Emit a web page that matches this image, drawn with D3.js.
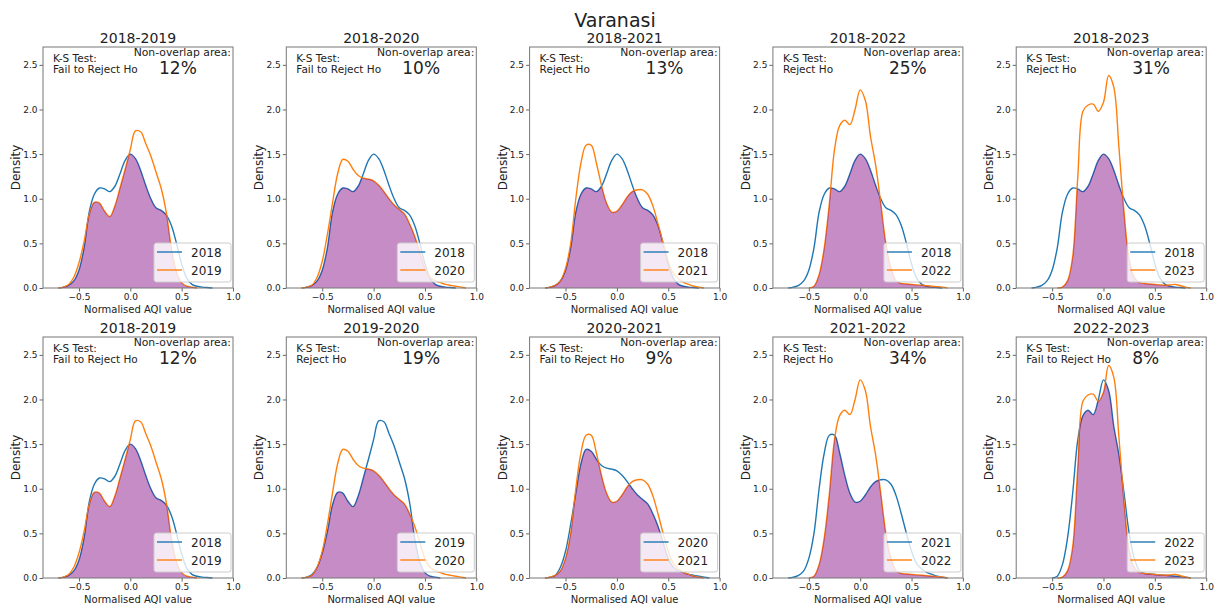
<!DOCTYPE html>
<html>
<head>
<meta charset="utf-8">
<script src="https://cdn.jsdelivr.net/npm/d3@7"></script>
<style>
  body { margin: 0; background: #fff; }
  text { font-family: "DejaVu Sans", sans-serif; fill: #222; }
</style>
</head>
<body>
<script>
const width = 1220, height = 608;

const xGrid = [-0.75,-0.70,-0.65,-0.60,-0.55,-0.50,-0.45,-0.40,-0.35,-0.30,-0.25,-0.20,-0.15,-0.10,-0.05,
  0.00,0.05,0.10,0.15,0.20,0.25,0.30,0.35,0.40,0.45,0.50,0.55,0.60,0.65,0.70,0.75,0.80,0.85,0.90,0.95];

// KDE of normalised AQI per year (null = outside the curve)
const d2018 = [null,0.00,0.01,0.03,0.08,0.20,0.45,0.85,1.05,1.12,1.11,1.08,1.14,1.28,1.43,
  1.50,1.45,1.32,1.15,1.00,0.90,0.87,0.82,0.70,0.50,0.27,0.11,0.04,0.02,0.01,0.005,0.00,null,null,null];
const d2019 = [null,0.00,0.01,0.04,0.12,0.28,0.52,0.82,0.96,0.95,0.86,0.80,0.92,1.12,1.33,
  1.55,1.76,1.75,1.62,1.48,1.30,1.12,0.85,0.45,0.18,0.06,0.02,0.01,0.00,null,null,null,null,null,null];
const d2020 = [null,0.00,0.01,0.03,0.12,0.30,0.60,0.95,1.28,1.44,1.42,1.33,1.26,1.23,1.22,
  1.20,1.15,1.08,1.00,0.93,0.88,0.83,0.72,0.58,0.40,0.22,0.12,0.08,0.06,0.04,0.03,0.02,0.01,0.00,null];
const d2021 = [null,0.00,0.01,0.03,0.08,0.22,0.50,1.00,1.40,1.60,1.60,1.40,1.15,0.95,0.85,
  0.86,0.93,1.02,1.08,1.10,1.10,1.05,0.92,0.72,0.50,0.30,0.16,0.10,0.06,0.04,0.02,0.01,0.00,null,null];
const d2022 = [null,null,null,null,null,0.00,0.02,0.15,0.45,0.95,1.55,1.82,1.88,1.83,2.00,
  2.22,2.10,1.70,1.38,0.95,0.50,0.22,0.08,0.05,0.045,0.04,0.035,0.03,0.025,0.02,0.015,0.01,0.00,null,null];
const d2023 = [null,null,null,null,null,null,0.00,0.01,0.08,0.35,1.25,1.98,2.05,2.06,1.98,
  2.08,2.38,2.25,1.58,0.85,0.32,0.12,0.06,0.05,0.045,0.04,0.035,0.03,0.035,0.04,0.025,0.01,0.00,null,null];

const firstYear  = [2018,2018,2018,2018,2018, 2018,2019,2020,2021,2022];
const secondYear = [2019,2020,2021,2022,2023, 2019,2020,2021,2022,2023];
const ksResult = ["Fail to Reject Ho","Fail to Reject Ho","Reject Ho","Reject Ho","Reject Ho",
  "Fail to Reject Ho","Reject Ho","Fail to Reject Ho","Reject Ho","Fail to Reject Ho"];
const nonOverlap = [12,10,13,25,31,12,19,9,34,8];
const xTicks = [-0.5,0.0,0.5,1.0];
const yTicks = [0.0,0.5,1.0,1.5,2.0,2.5];

const curves = {2018: d2018, 2019: d2019, 2020: d2020, 2021: d2021, 2022: d2022, 2023: d2023};
const pts = yr => xGrid.map((x, i) => [x, curves[yr][i]]);

const svg = d3.select("body").append("svg")
  .attr("width", width).attr("height", height);
const defs = svg.append("defs");

const panelW = 190, panelH = 241;
const x = d3.scaleLinear().domain([-0.85, 1.0]).range([0, panelW]);
const y = d3.scaleLinear().domain([0, 2.7]).range([panelH, 0]);

const line = d3.line()
  .defined(d => d[1] !== null)
  .x(d => x(d[0])).y(d => y(d[1]))
  .curve(d3.curveCatmullRom.alpha(0.5));
const area = d3.area()
  .defined(d => d[1] !== null)
  .x(d => x(d[0])).y0(y(0)).y1(d => y(d[1]))
  .curve(d3.curveCatmullRom.alpha(0.5));

const blue = "#1f77b4", orange = "#ff7f0e";
const fmt = d3.format(".1f");

svg.append("text")
  .attr("x", 615).attr("y", 27)
  .attr("text-anchor", "middle")
  .style("font-size", "19px")
  .text("Varanasi");

firstYear.forEach((a, i) => {
  const b = secondYear[i];
  const row = Math.floor(i / 5), col = i % 5;
  const px = 43 + col * 243.3, py = 47 + row * 290;
  const g = svg.append("g").attr("transform", `translate(${px},${py})`);

  // axes
  const xa = g.append("g").attr("transform", `translate(0,${panelH})`)
    .call(d3.axisBottom(x).tickValues(xTicks).tickFormat(fmt).tickSize(3.5).tickSizeOuter(0).tickPadding(2));
  const ya = g.append("g")
    .call(d3.axisLeft(y).tickValues(yTicks).tickFormat(fmt).tickSize(3.5).tickSizeOuter(0).tickPadding(2));
  [xa, ya].forEach(ax => {
    ax.select(".domain").remove();
    ax.selectAll(".tick line").attr("stroke", "#666");
    ax.selectAll(".tick text").style("font-size", "9px").style("font-family", "DejaVu Sans").attr("fill", "#333");
  });

  // curves, then overlap (area a clipped by area b)
  g.append("path").datum(pts(a)).attr("d", line)
    .attr("fill", "none").attr("stroke", blue).attr("stroke-width", 1.4);
  g.append("path").datum(pts(b)).attr("d", line)
    .attr("fill", "none").attr("stroke", orange).attr("stroke-width", 1.4);

  defs.append("clipPath").attr("id", "clip" + i)
    .append("path").datum(pts(b)).attr("d", area);
  g.append("path").datum(pts(a)).attr("d", area)
    .attr("clip-path", `url(#clip${i})`)
    .attr("fill", "#800080").attr("fill-opacity", 0.45);

  g.append("rect")
    .attr("width", panelW).attr("height", panelH)
    .attr("fill", "none").attr("stroke", "#777").attr("stroke-width", 1);

  // texts
  g.append("text").attr("x", panelW / 2).attr("y", -4)
    .attr("text-anchor", "middle").style("font-size", "14px")
    .text(`${a}-${b}`);
  g.append("text").attr("x", 10).attr("y", 15).style("font-size", "10.5px").text("K-S Test:");
  g.append("text").attr("x", 10).attr("y", 26).style("font-size", "10.5px").text(ksResult[i]);
  g.append("text").attr("x", panelW - 2).attr("y", 9)
    .attr("text-anchor", "end").style("font-size", "10.8px").text("Non-overlap area:");
  g.append("text").attr("x", 116).attr("y", 27).style("font-size", "17px").text(nonOverlap[i] + "%");

  g.append("text")
    .attr("transform", `translate(-23,${panelH / 2}) rotate(-90)`)
    .attr("text-anchor", "middle").style("font-size", "12px").text("Density");
  g.append("text").attr("x", panelW / 2).attr("y", panelH + 25)
    .attr("text-anchor", "middle").style("font-size", "10px").text("Normalised AQI value");

  // legend
  const lg = g.append("g").attr("transform", "translate(111,196)");
  lg.append("rect").attr("width", 77).attr("height", 39).attr("rx", 2.5)
    .attr("fill", "#fff").attr("fill-opacity", 0.8).attr("stroke", "#ccc");
  [[a, blue], [b, orange]].forEach(([yr, c], k) => {
    lg.append("line").attr("x1", 3).attr("x2", 28).attr("y1", 9 + k * 18).attr("y2", 9 + k * 18)
      .attr("stroke", c).attr("stroke-width", 1.4);
    lg.append("text").attr("x", 37).attr("y", 13.5 + k * 18).style("font-size", "12px").text(yr);
  });
});
</script>
</body>
</html>
